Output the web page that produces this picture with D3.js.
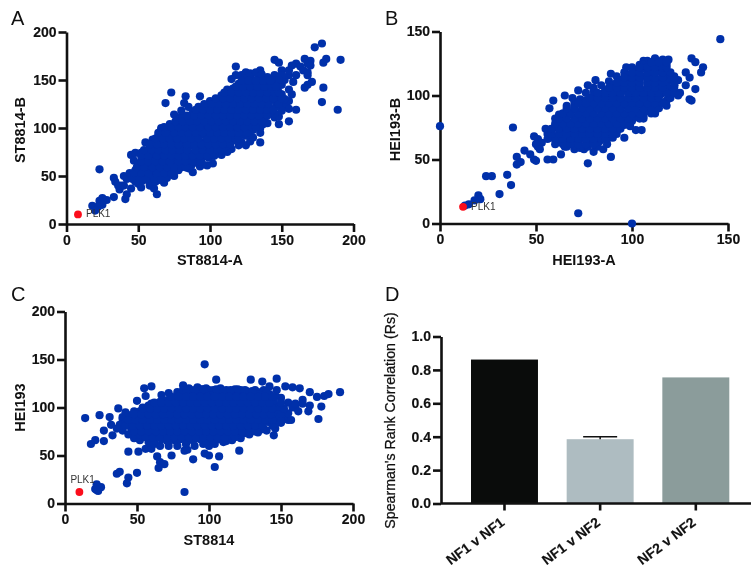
<!DOCTYPE html>
<html>
<head>
<meta charset="utf-8">
<script src="https://cdn.jsdelivr.net/npm/d3@7"></script>
<style>
  html, body { margin: 0; padding: 0; background: #fff; }
  svg { display: block; font-family: "Liberation Sans", Arial, sans-serif; filter: blur(0.4px); }
  .axis path, .axis line { stroke: #111; stroke-width: 2.6; }
  .axis text { font-size: 14px; font-weight: bold; fill: #111; stroke: #111; stroke-width: 0.15; }
  .title { font-size: 14.5px; font-weight: bold; fill: #111; }
  .letter { font-size: 20px; fill: #111; }
  .gene { font-size: 10px; fill: #333; }
</style>
</head>
<body>
<div id="chart"></div>
<script>
// values: [x, y]
const pointsA = [
  [178,188],[173,184],[191,171],[181,172],[179,168],[170,170],[166,172],[168,167],[170,165],[160,167],[157,165],[163,164],[165,160],[168,155],[168,158],[171,148],[168,145],[166,142],[179,142],[178,127],[189,119],[160,119],[157,135],[155,128],[152,122],[153,125],[155,107],[148,104],[145,111],[137,104],[135,95],[135,85],[118,164],[115,151],[145,171],[148,168],[150,160],[155,155],[158,148],[152,150],[147,140],[150,135],[73,137],[69,126],[82,126],[83,133],[93,133],[75,114],[80,112],[66,100],[70,96],[45,72],[47,66],[23,57],[33,48],[40,50],[44,48],[34,44],[38,40],[37,36],[42,31],[41,26],[33,28],[28,25],[25,27],[23,24],[25,20],[18,19],[22,18],[20,14],[63,31],[68,43],[75,50],[88,54],[93,60],[98,61],[102,71],[102,63],[58,40],[61,37],[40,40],[45,37],[50,42],[105,82],[110,80],[122,85],[125,82],[128,86],[42,47],[36,40],
  [140,150],[145,145],[150,145],[155,140],[150,150],[155,160],[160,155],[145,155],[150,155],[148,150],[143,150],[152,130],[155,120],[150,118],[148,112],[145,115],[140,105],[135,100],[130,98],[125,92],[120,82],[115,78],[130,90],[125,95],[118,155],[122,155],[125,158],[135,160],[95,115],[90,118],[85,122],[80,118],[78,108],[72,100],[60,88],[55,85],[48,74],[65,92],[95,62],[90,64],[85,58],[78,56],[70,48],[65,46],[60,42],[52,38],[48,48],[44,53],[100,72],[108,72],[112,75],
  [48,44],[53,45],[58,43],[62,44],[45,50],[50,51],[55,49],[60,50],[65,51],[69,49],[48,56],[53,57],[57,55],[62,56],[66,57],[71,55],[76,56],
  [50,62],[55,63],[59,61],[64,62],[68,63],[73,61],[77,62],[82,63],[87,61],[54,68],[58,69],[63,67],[67,68],[72,69],[76,67],[81,68],[85,69],[90,67],[94,68],[99,69],
  [52,74],[57,75],[61,73],[66,74],[70,75],[75,73],[79,74],[84,75],[88,73],[93,74],[97,75],[102,73],[106,74],[58,80],[62,81],[67,79],[71,80],[76,81],[80,79],[85,80],[89,81],[94,79],[98,80],[103,81],[107,79],[110,80],
  [60,86],[65,87],[69,85],[74,86],[78,87],[83,85],[87,86],[92,87],[96,85],[101,86],[105,87],[110,85],[114,86],[118,87],[64,92],[68,93],[73,91],[77,92],[82,93],[86,91],[91,92],[95,93],[100,91],[104,92],[109,93],[113,91],[118,92],[122,93],
  [66,98],[71,99],[75,97],[80,98],[84,99],[89,97],[93,98],[98,99],[102,97],[107,98],[111,99],[116,97],[120,98],[125,99],[128,97],[72,104],[76,105],[81,103],[85,104],[90,105],[94,103],[99,104],[103,105],[108,103],[112,104],[117,105],[121,103],[126,104],[130,105],[132,103],
  [80,110],[84,111],[89,109],[93,110],[98,111],[102,109],[107,110],[111,111],[116,109],[120,110],[125,111],[129,109],[134,110],[138,111],[88,116],[92,117],[97,115],[101,116],[106,117],[110,115],[115,116],[119,117],[124,115],[128,116],[133,117],[137,115],[142,116],
  [92,122],[96,123],[101,121],[105,122],[110,123],[114,121],[119,122],[123,123],[128,121],[132,122],[137,123],[141,121],[146,122],[100,128],[104,129],[109,127],[113,128],[118,129],[122,127],[127,128],[131,129],[136,127],[140,128],[145,129],[148,127],
  [108,134],[112,135],[117,133],[121,134],[126,135],[130,133],[135,134],[139,135],[144,133],[148,134],[112,140],[116,141],[121,139],[125,140],[130,141],[134,139],[139,140],[143,141],[146,139],
  [120,146],[124,147],[129,145],[133,146],[138,147],[142,145],[124,152],[128,153],[133,151],[137,152],[140,153],[128,157],[132,158],[136,156]
]
const pointsB = [
  [146,144],[131,129],[133,126],[137,122],[136,118],[128,118],[130,114],[128,108],[133,105],[130,97],[131,96],[125,102],[122,108],[124,100],[0,76],[38,75],[40,52],[42,48],[40,46],[49,50],[50,49],[47,54],[44,57],[49,68],[51,66],[53,63],[51,60],[50,62],[52,58],[24,37],[27,37],[35,38],[37,30],[31,23],[20,22],[21,19],[18,18],[15,15],[13,14],[72,8],[100,0],[89,52],[77,47],[56,50],[59,50],[63,54],[57,90],[59,96],[65,100],[69,98],[72,104],[80,106],[81,112],[89,117],[77,108],[97,122],[106,127],[116,128],[119,128],[102,73],[105,73],[96,67],[90,67],[75,58],[80,56],[85,58],[56,70],[58,67],[55,74],
  [62,85],[60,82],[66,92],[70,95],[73,97],[76,102],[80,104],[84,108],[88,111],[92,115],[96,118],[100,122],[104,124],[108,127],[112,129],[118,124],[122,115],[124,112],[120,112],[118,92],[112,86],[106,82],[100,80],[95,78],[92,70],[87,62],[82,60],[70,58],[65,60],[60,62],[56,66],[90,74],[99,76],
  [66,60],[70,61],[73,59],[77,60],[62,64],[65,65],[69,63],[72,64],[76,65],[79,63],[83,64],[60,68],[63,69],[67,67],[70,68],[74,69],[77,67],[81,68],[84,69],[88,67],
  [58,72],[62,73],[65,71],[69,72],[72,73],[76,71],[79,72],[83,73],[86,71],[90,72],[92,73],[60,76],[64,77],[67,75],[71,76],[74,77],[78,75],[81,76],[85,77],[88,75],[92,76],[96,77],
  [62,80],[65,81],[69,79],[72,80],[76,81],[79,79],[83,80],[86,81],[90,79],[93,80],[97,81],[98,79],[64,84],[67,85],[71,83],[74,84],[78,85],[81,83],[85,84],[88,85],[92,83],[95,84],[99,85],[102,83],[106,84],
  [66,88],[70,89],[73,87],[77,88],[80,89],[84,87],[87,88],[91,89],[94,87],[98,88],[101,89],[105,87],[108,88],[112,89],[70,92],[74,93],[77,91],[81,92],[84,93],[88,91],[91,92],[95,93],[98,91],[102,92],[105,93],[109,91],[112,92],[114,93],
  [76,96],[79,97],[83,95],[86,96],[90,97],[93,95],[97,96],[100,97],[104,95],[107,96],[111,97],[114,95],[118,96],[80,100],[84,101],[87,99],[91,100],[94,101],[98,99],[101,100],[105,101],[108,99],[112,100],[115,101],[119,99],[120,100],
  [86,104],[89,105],[93,103],[96,104],[100,105],[103,103],[107,104],[110,105],[114,103],[117,104],[120,105],[90,108],[94,109],[97,107],[101,108],[104,109],[108,107],[111,108],[115,109],[118,107],[122,108],
  [94,112],[97,113],[101,111],[104,112],[108,113],[111,111],[115,112],[118,113],[122,111],[98,116],[102,117],[105,115],[109,116],[112,117],[116,115],[120,116],[102,120],[105,121],[109,119],[112,120],[116,121],[118,119],[106,124],[110,125],[113,123],[117,124],[112,128],[116,127]
]
const pointsC = [
  [97,145],[105,129],[129,129],[137,127],[147,130],[142,122],[153,122],[158,121],[163,120],[170,116],[175,111],[180,112],[183,114],[191,116],[178,101],[176,88],[170,102],[169,96],[155,87],[157,87],[145,71],[121,55],[14,89],[24,92],[31,90],[27,76],[32,82],[33,71],[27,65],[21,66],[18,62],[44,54],[51,54],[56,57],[60,57],[74,50],[64,49],[66,43],[69,41],[65,37],[104,38],[100,50],[107,49],[89,46],[83,12],[97,52],[83,55],[85,56],[50,32],[44,27],[43,21],[38,33],[36,31],[22,20],[25,17],[22,14],[23,13],[21,15],[37,99],[42,95],[40,90],[55,120],[60,122],[56,112],[50,107],[67,113],[72,115],[76,110],[82,123],[87,118],[95,119],[100,118],[165,108],[160,100],[155,105],[150,110],[158,100],[162,96],[152,96],[147,118],[138,118],
  [78,116],[82,118],[86,120],[92,121],[98,120],[103,118],[108,120],[112,118],[118,119],[122,118],[126,117],[132,118],[136,116],[142,114],[146,112],[72,108],[66,106],[60,104],[54,100],[48,96],[44,92],[40,88],[38,82],[36,78],[40,76],[44,72],[48,68],[52,66],[58,64],[62,62],[66,60],[72,60],[78,60],[84,62],[90,60],[96,62],[100,60],[104,62],[110,64],[116,66],[122,68],[128,72],[134,74],[140,76],[146,78],[150,84],[152,90],[155,94],[160,104],[165,104],
  [62,66],[67,67],[71,65],[76,66],[80,67],[85,65],[89,66],[94,67],[98,65],[103,66],[107,67],[112,65],[52,72],[57,73],[61,71],[66,72],[70,73],[75,71],[79,72],[84,73],[88,71],[93,72],[97,73],[102,71],[106,72],[111,73],[115,71],[120,72],[124,73],
  [46,78],[50,79],[55,77],[59,78],[64,79],[68,77],[73,78],[77,79],[82,77],[86,78],[91,79],[95,77],[100,78],[104,79],[109,77],[113,78],[118,79],[122,77],[127,78],[131,79],[136,77],[138,78],
  [42,84],[47,85],[51,83],[56,84],[60,85],[65,83],[69,84],[74,85],[78,83],[83,84],[87,85],[92,83],[96,84],[101,85],[105,83],[110,84],[114,85],[119,83],[123,84],[128,85],[132,83],[137,84],[141,85],[146,83],
  [46,90],[50,91],[55,89],[59,90],[64,91],[68,89],[73,90],[77,91],[82,89],[86,90],[91,91],[95,89],[100,90],[104,91],[109,89],[113,90],[118,91],[122,89],[127,90],[131,91],[136,89],[140,90],[145,91],[148,89],
  [52,96],[56,97],[61,95],[65,96],[70,97],[74,95],[79,96],[83,97],[88,95],[92,96],[97,97],[101,95],[106,96],[110,97],[115,95],[119,96],[124,97],[128,95],[133,96],[137,97],[142,95],[146,96],[150,97],
  [58,102],[63,103],[67,101],[72,102],[76,103],[81,101],[85,102],[90,103],[94,101],[99,102],[103,103],[108,101],[112,102],[117,103],[121,101],[126,102],[130,103],[135,101],[139,102],[144,103],[148,101],
  [68,108],[73,109],[77,107],[82,108],[86,109],[91,107],[95,108],[100,109],[104,107],[109,108],[113,109],[118,107],[122,108],[127,109],[131,107],[136,108],[140,109],[145,107],
  [80,114],[84,115],[89,113],[93,114],[98,115],[102,113],[107,114],[111,115],[116,113],[120,114],[125,115],[129,113],[134,114],[140,115],[90,118],[96,119],[105,119],[110,117],[115,118],[120,119],[125,118],[130,117]
]
// the solid middle of each cloud, written row by row: [y, [x, x, ...]]
const denseA = [
  [47,[46,51,56,61,66]],[53,[47,52,57,63,68,73]],[59,[49,54,60,65,70,75,80,83]],[65,[52,57,62,67,72,78,83,88,93]],
  [71,[52,57,63,68,73,78,83,88,93,98,103]],[77,[54,59,64,69,74,79,84,90,95,100,105,108]],
  [83,[58,63,68,73,78,84,89,94,99,104,109,114]],[89,[62,67,72,77,82,87,92,98,103,108,113,118,120]],
  [95,[64,69,75,80,85,90,95,100,105,110,115,120,126]],[101,[68,73,78,83,88,93,99,104,109,114,119,124,129,132]],
  [107,[76,81,86,91,96,101,106,111,116,121,126,131,136]],[113,[84,89,94,99,104,109,114,119,124,129,134,140]],
  [119,[90,95,100,105,110,115,120,125,130,135,140,144]],[125,[96,101,106,111,116,121,126,131,136,141,148]],
  [131,[104,109,114,119,124,129,134,139,144,150]],[137,[110,115,120,125,130,135,140,145,148]],
  [143,[118,123,128,133,138,143,146]],[149,[122,127,132,137,142]]
]
const denseB = [
  [62,[64,68,72,76,80]],[66,[60,64,68,72,76,80,84,86]],[70,[58,62,66,70,74,78,82,86,90]],[74,[58,62,66,70,74,78,82,86,90,94]],
  [78,[60,64,68,72,76,80,84,88,92,96,98]],[82,[62,66,70,74,78,82,86,90,94,98,104]],[86,[64,68,72,76,80,84,88,92,96,100,104,110]],
  [90,[66,70,74,78,82,86,90,94,98,102,106,110,114]],[94,[72,76,80,84,88,92,96,100,104,108,112,116]],
  [98,[78,82,86,90,94,98,102,106,110,114,120]],[102,[82,86,90,94,98,102,106,110,114,118,122]],
  [106,[88,92,96,100,104,108,112,116,122]],[110,[92,96,100,104,108,112,116,122]],[114,[96,100,104,108,112,116,122]],
  [118,[100,104,108,112,116,120]],[122,[104,108,112,116,118]],[126,[110,114,118]]
]
const denseC = [
  [69,[56,61,66,71,76,81,86,91,96,101,106,111,118]],
  [75,[48,53,58,63,68,73,78,83,88,93,98,103,108,113,118,123,128,132]],
  [81,[42,47,52,57,62,67,72,77,82,87,92,97,102,107,112,117,122,127,132,137,144]],
  [87,[44,49,54,59,64,69,74,79,84,89,94,99,104,109,114,119,124,129,134,139,144,150]],
  [93,[48,53,58,63,68,73,78,83,88,93,98,103,108,113,118,123,128,133,138,143,150]],
  [99,[54,59,64,69,74,79,84,89,94,99,104,109,114,119,124,129,134,139,144,152]],
  [105,[62,67,72,77,82,87,92,97,102,107,112,117,122,127,132,137,142,150]],
  [111,[74,79,84,89,94,99,104,109,114,119,124,129,134,139,144]]
]
const plkA = [8, 10]
const plkB = [12, 13]
const plkC = [10, 12]

const ticks200 = [0, 50, 100, 150, 200]
const ticks150 = [0, 50, 100, 150]
const ticksR = [0, 0.2, 0.4, 0.6, 0.8, 1]

const categories = ['NF1 v NF1', 'NF1 v NF2', 'NF2 v NF2']
const rsValues = [0.862, 0.385, 0.755]
const rsErrors = [0, 0.015, 0]
const barColors = ['#0a0c0b', '#aebcc1', '#8b9c9b']

const blue = '#0030aa'
const red = '#fb0d1b'

const svg = d3
  .select('#chart')
  .append('svg')
  .attr('width', 751)
  .attr('height', 571)

function scatter(opts) {
  const g = svg
    .append('g')
    .attr('transform', 'translate(' + opts.left + ',' + opts.bottom + ')')

  const x = d3
    .scaleLinear()
    .domain([0, opts.max])
    .range([0, opts.w])
  const y = d3
    .scaleLinear()
    .domain([0, opts.max])
    .range([0, -opts.h])

  g.append('g')
    .attr('class', 'axis')
    .call(d3.axisLeft(y).tickValues(opts.ticks).tickSize(8).tickSizeOuter(0).tickPadding(2))
  g.append('g')
    .attr('class', 'axis')
    .call(d3.axisBottom(x).tickValues(opts.ticks).tickSize(8).tickSizeOuter(0).tickPadding(3))

  const all = opts.points.concat(opts.dense.flatMap(r => r[1].map(v => [v, r[0]])))

  g.selectAll('.dot')
    .data(all)
    .enter()
    .append('circle')
    .attr('r', 4.1)
    .attr('cx', d => x(d[0]))
    .attr('cy', d => y(d[1]))
    .attr('fill', blue)

  g.append('circle')
    .attr('r', 3.9)
    .attr('cx', x(opts.plk[0]))
    .attr('cy', y(opts.plk[1]))
    .attr('fill', red)

  g.append('text')
    .attr('class', 'gene')
    .attr('x', x(opts.plk[0]) + opts.labelDx)
    .attr('y', y(opts.plk[1]) + opts.labelDy)
    .text('PLK1')

  g.append('text')
    .attr('class', 'title')
    .attr('text-anchor', 'middle')
    .attr('x', opts.w / 2)
    .attr('y', 41)
    .text(opts.xTitle)

  g.append('text')
    .attr('class', 'title')
    .attr('text-anchor', 'middle')
    .attr('transform', 'translate(' + opts.yTitleX + ',' + (-opts.h / 2 + opts.yTitleDy) + ') rotate(-90)')
    .text(opts.yTitle)
}

scatter({ left: 66.5, bottom: 224, w: 287, h: 192, max: 200, ticks: ticks200, points: pointsA, dense: denseA, plk: plkA, labelDx: 8, labelDy: 3, xTitle: 'ST8814-A', yTitle: 'ST8814-B', yTitleX: -41.5, yTitleDy: 2 })
scatter({ left: 440, bottom: 223.5, w: 288, h: 192, max: 150, ticks: ticks150, points: pointsB, dense: denseB, plk: plkB, labelDx: 8, labelDy: 3, xTitle: 'HEI193-A', yTitle: 'HEI193-B', yTitleX: -40, yTitleDy: 2 })
scatter({ left: 65, bottom: 503.5, w: 288, h: 192, max: 200, ticks: ticks200, points: pointsC, dense: denseC, plk: plkC, labelDx: -9, labelDy: -9, xTitle: 'ST8814', yTitle: 'HEI193', yTitleX: -40, yTitleDy: 0 })

// panel D
const dLeft = 441
const dBottom = 503.5

const gD = svg
  .append('g')
  .attr('transform', 'translate(' + dLeft + ',' + dBottom + ')')

const xBand = d3
  .scaleBand()
  .domain(categories)
  .range([30, 288.3])
  .paddingInner(0.3)
  .paddingOuter(0)

const yR = d3
  .scaleLinear()
  .domain([0, 1])
  .range([0, -167])

gD.selectAll('.bar')
  .data(categories)
  .enter()
  .append('rect')
  .attr('x', d => xBand(d))
  .attr('width', xBand.bandwidth())
  .attr('y', (d, i) => yR(rsValues[i]))
  .attr('height', (d, i) => -yR(rsValues[i]))
  .attr('fill', (d, i) => barColors[i])

// only the middle bar has a visible error whisker
const errCat = categories[1]
const errX = xBand(errCat) + xBand.bandwidth() / 2
gD.append('line')
  .attr('x1', errX)
  .attr('x2', errX)
  .attr('y1', yR(rsValues[1]))
  .attr('y2', yR(rsValues[1] + rsErrors[1]))
  .attr('stroke', '#111')
  .attr('stroke-width', 1.5)
gD.append('line')
  .attr('x1', errX - 17)
  .attr('x2', errX + 17)
  .attr('y1', yR(rsValues[1] + rsErrors[1]))
  .attr('y2', yR(rsValues[1] + rsErrors[1]))
  .attr('stroke', '#111')
  .attr('stroke-width', 1.5)

gD.append('g')
  .attr('class', 'axis')
  .call(d3.axisLeft(yR).tickValues(ticksR).tickSize(8).tickSizeOuter(0).tickPadding(2).tickFormat(d3.format('.1f')))

const xAxisD = gD
  .append('g')
  .attr('class', 'axis')
  .call(d3.axisBottom(xBand).tickSize(7).tickSizeOuter(0))

xAxisD.select('.domain').attr('d', 'M0,0H310')
xAxisD
  .selectAll('text')
  .attr('text-anchor', 'end')
  .attr('x', 0)
  .attr('y', 0)
  .attr('dy', '0.35em')
  .attr('transform', 'translate(-2,17) rotate(-37)')

gD.append('text')
  .attr('text-anchor', 'middle')
  .attr('transform', 'translate(-46.5,' + -83 + ') rotate(-90)')
  .attr('font-size', 14.2)
  .attr('fill', '#111')
  .attr('stroke', '#111')
  .attr('stroke-width', 0.25)
  .text("Spearman's Rank Correlation (Rs)")

// panel letters
const letters = [['A', 11, 25], ['B', 385, 25], ['C', 11, 301], ['D', 385, 301]]
svg
  .selectAll('.letter')
  .data(letters)
  .enter()
  .append('text')
  .attr('class', 'letter')
  .attr('x', d => d[1])
  .attr('y', d => d[2])
  .text(d => d[0])
</script>
</body>
</html>
